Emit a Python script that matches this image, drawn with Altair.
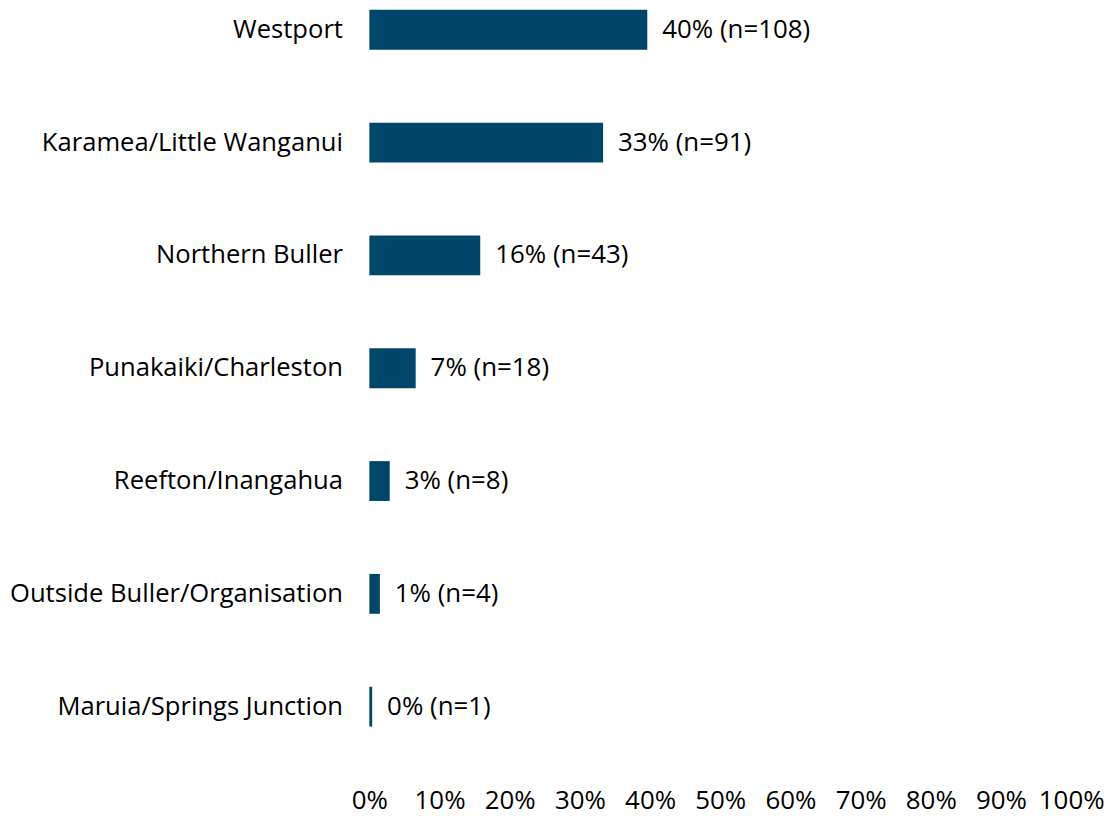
import altair as alt
import pandas as pd

places = [
    "Westport",
    "Karamea/Little Wanganui",
    "Northern Buller",
    "Punakaiki/Charleston",
    "Reefton/Inangahua",
    "Outside Buller/Organisation",
    "Maruia/Springs Junction",
]
pct = [39.6, 33.3, 15.8, 6.6, 2.9, 1.5, 0.4]
counts = [108, 91, 43, 18, 8, 4, 1]
pct_labels = ["40%", "33%", "16%", "7%", "3%", "1%", "0%"]
x_ticks = [0, 10, 20, 30, 40, 50, 60, 70, 80, 90, 100]

df = pd.DataFrame({
    "place": places,
    "pct": pct,
    "label": [f"{p} (n={n})" for p, n in zip(pct_labels, counts)],
})

FONT = "Open Sans"
SIZE = 26

y_enc = alt.Y(
    "place:N",
    sort=places,
    title=None,
    scale=alt.Scale(paddingInner=0.647, paddingOuter=0),
    axis=alt.Axis(
        labelFontSize=25.7, labelFont=FONT, labelColor="#000000",
        labelPadding=27, ticks=False, domain=False, labelLimit=500,
    ),
)
x_enc = alt.X(
    "pct:Q",
    title=None,
    scale=alt.Scale(domain=[0, 100], nice=False),
    axis=alt.Axis(
        values=x_ticks, labelExpr="datum.value + '%'",
        labelFontSize=SIZE, labelFont=FONT, labelColor="#000000",
        labelPadding=61, ticks=False, domain=False, grid=False,
        labelOverlap=False, labelFlush=False, labelBound=False,
    ),
)

bars = alt.Chart(df).mark_bar(color="#00466a").encode(x=x_enc, y=y_enc)
text = alt.Chart(df).mark_text(
    align="left", baseline="middle", dx=15, font=FONT, fontSize=SIZE, color="#000000"
).encode(x="pct:Q", y=alt.Y("place:N", sort=places), text="label:N")

chart = (
    alt.layer(bars, text)
    .properties(
        width=705,
        height=720,
        autosize=alt.AutoSizeParams(type="none"),
        padding={"left": 363, "top": 0, "right": 40, "bottom": 96},
    )
    .configure_view(stroke=None)
)

chart.save("out.html", embed_options={"renderer": "svg", "actions": False})
